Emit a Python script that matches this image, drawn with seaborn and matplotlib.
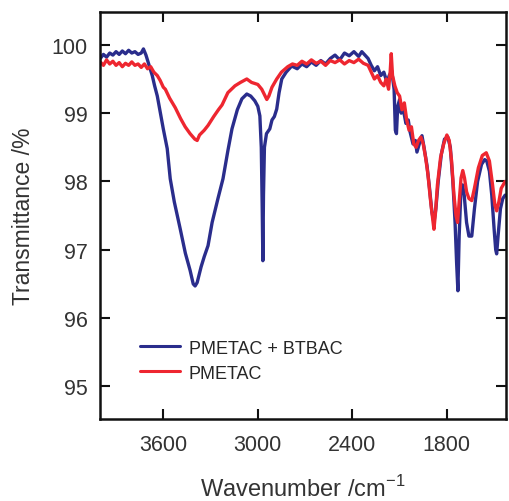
import matplotlib
matplotlib.use("Agg")
import matplotlib.pyplot as plt
import pandas as pd
import seaborn as sns

# =========================
# DATA
# =========================
wn_blend = [4000, 3980, 3960, 3940, 3920, 3900, 3880, 3860, 3840, 3820, 3800, 3780, 3760, 3740,
            3726, 3710, 3690, 3670, 3655, 3638, 3620, 3600, 3575, 3556, 3530, 3493, 3460, 3430,
            3410, 3398, 3385, 3360, 3340, 3316, 3290, 3253, 3221, 3190, 3164, 3130, 3101, 3070,
            3045, 3019, 3000, 2987, 2978, 2972, 2968, 2964, 2958, 2945, 2924, 2910, 2895, 2880,
            2865, 2848, 2820, 2785, 2750, 2720, 2690, 2660, 2630, 2600, 2570, 2540, 2510, 2480,
            2450, 2420, 2390, 2360, 2340, 2320, 2300, 2280, 2260, 2240, 2220, 2200, 2180, 2166,
            2150, 2135, 2127, 2120, 2112, 2100, 2090, 2080, 2060, 2045, 2034, 2015, 2000, 1990,
            1975, 1958, 1945, 1926, 1910, 1895, 1882, 1870, 1855, 1835, 1815, 1794, 1778, 1762,
            1748, 1738, 1730, 1722, 1712, 1700, 1690, 1675, 1660, 1642, 1625, 1605, 1580, 1560,
            1547, 1530, 1515, 1500, 1490, 1484, 1475, 1460, 1445, 1430]
t_blend = [99.80, 99.86, 99.82, 99.88, 99.85, 99.90, 99.86, 99.91, 99.87, 99.92, 99.88, 99.90, 99.86, 99.88,
           99.94, 99.85, 99.70, 99.55, 99.40, 99.25, 99.02, 98.77, 98.48, 98.04, 97.70, 97.31, 96.95, 96.70,
           96.50, 96.47, 96.52, 96.75, 96.90, 97.06, 97.40, 97.75, 98.04, 98.45, 98.77, 99.05, 99.21, 99.28,
           99.25, 99.18, 99.10, 98.96, 98.50, 97.60, 96.84, 97.80, 98.50, 98.70, 98.77, 98.90, 98.95, 99.06,
           99.30, 99.50, 99.60, 99.69, 99.65, 99.72, 99.68, 99.75, 99.70, 99.77, 99.72, 99.80, 99.85, 99.78,
           99.88, 99.84, 99.90, 99.83, 99.90, 99.85, 99.80, 99.70, 99.62, 99.68, 99.55, 99.60, 99.45, 99.55,
           99.62, 99.35, 98.75, 98.70, 99.10, 99.20, 99.00, 99.10, 98.85, 98.90, 98.73, 98.55, 98.60, 98.43,
           98.55, 98.67, 98.50, 98.23, 97.90, 97.55, 97.40, 97.60, 98.00, 98.40, 98.62, 98.65, 98.50, 98.00,
           97.40, 96.80, 96.40, 97.20, 97.80, 97.95, 97.80, 97.40, 97.20, 97.20, 97.60, 98.00, 98.25, 98.32,
           98.30, 98.15, 97.80, 97.30, 97.00, 96.94, 97.20, 97.60, 97.75, 97.80]

wn_pmetac = [4000, 3980, 3960, 3940, 3920, 3900, 3880, 3860, 3840, 3820, 3800, 3780, 3760, 3740,
             3720, 3700, 3680, 3660, 3638, 3620, 3600, 3587, 3560, 3524, 3490, 3461, 3430, 3400,
             3385, 3370, 3340, 3316, 3280, 3250, 3227, 3190, 3145, 3110, 3070, 3040, 3000, 2975,
             2960, 2943, 2930, 2910, 2880, 2850, 2810, 2780, 2750, 2720, 2690, 2660, 2630, 2600,
             2570, 2540, 2510, 2480, 2450, 2420, 2390, 2360, 2330, 2300, 2280, 2260, 2240, 2220,
             2200, 2185, 2170, 2160, 2153, 2145, 2130, 2115, 2100, 2085, 2070, 2055, 2040, 2025,
             2010, 1995, 1980, 1965, 1950, 1935, 1920, 1905, 1890, 1882, 1872, 1860, 1840, 1820,
             1800, 1785, 1770, 1755, 1742, 1732, 1722, 1710, 1699, 1688, 1675, 1660, 1642, 1625,
             1600, 1575, 1550, 1530, 1510, 1495, 1484, 1470, 1455, 1430]
t_pmetac = [99.75, 99.70, 99.78, 99.72, 99.76, 99.70, 99.74, 99.68, 99.73, 99.70, 99.75, 99.70, 99.72, 99.67,
            99.72, 99.65, 99.68, 99.60, 99.55, 99.48, 99.38, 99.35, 99.22, 99.08, 98.92, 98.80, 98.70, 98.62,
            98.60, 98.68, 98.75, 98.82, 98.95, 99.05, 99.12, 99.30, 99.40, 99.45, 99.50, 99.45, 99.42, 99.35,
            99.28, 99.20, 99.25, 99.38, 99.50, 99.60, 99.68, 99.72, 99.70, 99.76, 99.72, 99.78, 99.73, 99.76,
            99.70, 99.77, 99.74, 99.78, 99.72, 99.77, 99.74, 99.79, 99.73, 99.70, 99.60, 99.50, 99.55, 99.45,
            99.40, 99.50, 99.35, 99.60, 99.87, 99.55, 99.40, 99.30, 99.25, 99.05, 99.15, 98.90, 98.75, 98.80,
            98.55, 98.50, 98.60, 98.65, 98.55, 98.35, 98.10, 97.75, 97.45, 97.30, 97.55, 97.95, 98.35, 98.55,
            98.68, 98.60, 98.30, 97.80, 97.50, 97.40, 97.70, 98.05, 98.16, 98.05, 97.85, 97.75, 97.72, 97.90,
            98.20, 98.38, 98.42, 98.30, 97.95, 97.65, 97.57, 97.70, 97.90, 98.00]

series_names = ["PMETAC + BTBAC", "PMETAC"]
series_colors = ["#2a2d8c", "#ee2630"]
x_ticks = [3600, 3000, 2400, 1800]
y_ticks = [95, 96, 97, 98, 99, 100]

df = pd.concat([
    pd.DataFrame({"wn": wn_blend, "T": t_blend, "sample": series_names[0]}),
    pd.DataFrame({"wn": wn_pmetac, "T": t_pmetac, "sample": series_names[1]}),
])

# =========================
# STYLE
# =========================
sns.set_style("ticks")
plt.rcParams["font.family"] = ["Liberation Sans", "DejaVu Sans"]
plt.rcParams["mathtext.fontset"] = "custom"
plt.rcParams["mathtext.rm"] = "Liberation Sans"

fig = plt.figure(figsize=(5.09, 5.02), dpi=100)
ax = fig.add_axes([0.197, 0.163, 0.797, 0.811])

sns.lineplot(data=df, x="wn", y="T", hue="sample", hue_order=series_names,
             palette=series_colors, linewidth=2.4, estimator=None, ax=ax)

ax.set_xlim(4000, 1425)
ax.set_ylim(94.52, 100.48)
ax.set_xticks(x_ticks)
ax.set_yticks(y_ticks)
ax.tick_params(direction="in", length=7, width=1.5, top=True, right=True,
               labelsize=15.5, colors="#111111", labelcolor="#333333")
ax.tick_params(axis="x", pad=11)
ax.tick_params(axis="y", pad=9)
for s in ax.spines.values():
    s.set_linewidth(1.8)
    s.set_color("#111111")

ax.set_xlabel("Wavenumber /cm$^{-1}$", fontsize=17, color="#333333", labelpad=14)
ax.set_ylabel("Transmittance /%", fontsize=16.5, color="#333333", labelpad=12)

leg = ax.legend(loc="lower left", bbox_to_anchor=(0.058, 0.052), frameon=False,
                fontsize=13, handlelength=2.2, handletextpad=0.5, labelspacing=0.45)
for line in leg.get_lines():
    line.set_linewidth(2.2)

fig.savefig("out.png", dpi=100)
